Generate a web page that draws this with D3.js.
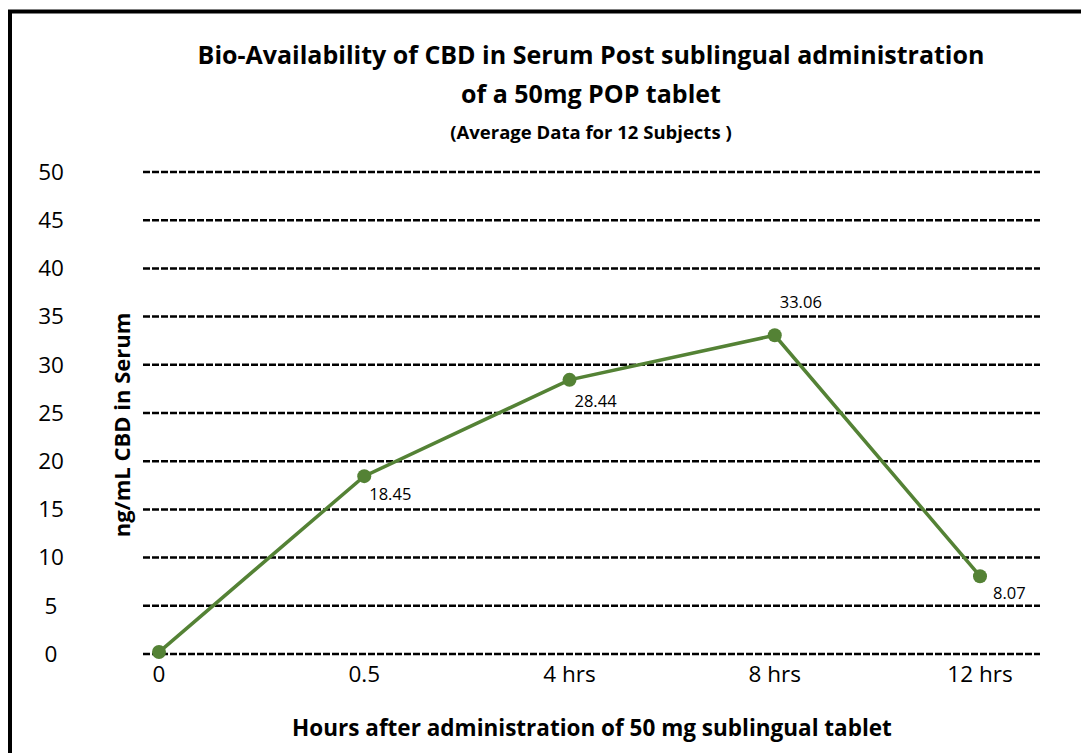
<!DOCTYPE html>
<html><head><meta charset="utf-8">
<script src="https://cdn.jsdelivr.net/npm/d3@7"></script>
<style>
body{margin:0;background:#fff;}
svg{display:block;font-family:"Open Sans",Lato,sans-serif;}
</style></head>
<body><svg id="c" width="1081" height="753"></svg>
<script>
const categories = ["0", "0.5", "4 hrs", "8 hrs", "12 hrs"];
const values = [0.2, 18.45, 28.44, 33.06, 8.07];
const valueLabels = ["", "18.45", "28.44", "33.06", "8.07"];
const yTicks = [0, 5, 10, 15, 20, 25, 30, 35, 40, 45, 50];
const titleLines = ["Bio-Availability of CBD in Serum Post sublingual administration", "of a 50mg POP tablet"];
const subtitle = "(Average Data for 12 Subjects )";
const xTitle = "Hours after administration of 50 mg sublingual tablet";
const yTitle = "ng/mL CBD in Serum";

const svg = d3.select("#c");
const green = "#548235";

// border
svg.append("rect").attr("x", 10).attr("y", 11.5).attr("width", 1200).attr("height", 900)
  .attr("fill", "none").attr("stroke", "#000").attr("stroke-width", 4);

const x = d3.scalePoint().domain(categories).range([159, 980]);
const y = d3.scaleLinear().domain([0, 50]).range([654, 172]);

// grid
svg.append("g").selectAll("line").data(yTicks).join("line")
  .attr("x1", 143).attr("x2", 1040)
  .attr("y1", d => y(d)).attr("y2", d => y(d))
  .attr("stroke", "#000").attr("stroke-width", 2.5).attr("stroke-dasharray", "7,2");

// y labels
svg.append("g").selectAll("text").data(yTicks).join("text")
  .attr("x", 51).attr("y", d => y(d)).attr("dy", "0.35em")
  .attr("text-anchor", "middle").attr("font-size", 22.5).attr("fill", "#000")
  .text(d => d);

// x labels
svg.append("g").selectAll("text").data(categories).join("text")
  .attr("x", d => x(d)).attr("y", 682)
  .attr("text-anchor", "middle").attr("font-size", 22.5).attr("fill", "#000")
  .text(d => d);

// line
const pts = categories.map((c, i) => ({c, v: values[i], l: valueLabels[i]}));
svg.append("path").datum(pts)
  .attr("d", d3.line().x(d => x(d.c)).y(d => y(d.v)))
  .attr("fill", "none").attr("stroke", green).attr("stroke-width", 3.5);
svg.append("g").selectAll("circle").data(pts).join("circle")
  .attr("cx", d => x(d.c)).attr("cy", d => y(d.v)).attr("r", 7).attr("fill", green);

// value labels
const offs = {"0.5": [5, 24], "4 hrs": [5, 27], "8 hrs": [5, -27], "12 hrs": [13, 23]};
svg.append("g").selectAll("text").data(pts.filter(d => d.l)).join("text")
  .attr("x", d => x(d.c) + offs[d.c][0]).attr("y", d => y(d.v) + offs[d.c][1])
  .attr("font-size", 16.5).attr("fill", "#000")
  .text(d => d.l);

// titles
svg.append("g").selectAll("text").data(titleLines).join("text")
  .attr("x", 591).attr("y", (d, i) => 64 + i * 39)
  .attr("text-anchor", "middle").attr("font-size", 25).attr("font-weight", "bold")
  .text(d => d);
svg.append("text").attr("x", 591).attr("y", 139).attr("text-anchor", "middle")
  .attr("font-size", 18.5).attr("font-weight", "bold").text(subtitle);
svg.append("text").attr("x", 592).attr("y", 736).attr("text-anchor", "middle")
  .attr("font-size", 22.5).attr("font-weight", "bold").text(xTitle);
svg.append("text").attr("transform", "translate(130,425) rotate(-90)").attr("text-anchor", "middle")
  .attr("font-size", 22).attr("font-weight", "bold").text(yTitle);
</script></body></html>
